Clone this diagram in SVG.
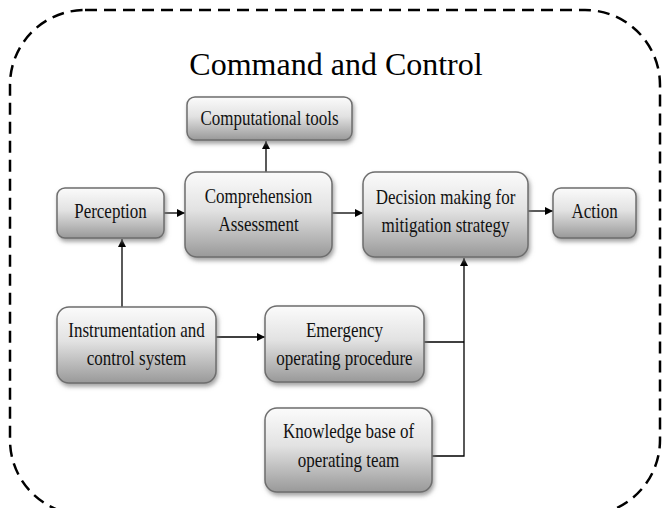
<svg xmlns="http://www.w3.org/2000/svg" width="663" height="508" viewBox="0 0 663 508">
  <defs>
    <linearGradient id="g" x1="0" y1="0" x2="0" y2="1">
      <stop offset="0" stop-color="#fbfbfb"/>
      <stop offset="0.45" stop-color="#e2e2e2"/>
      <stop offset="1" stop-color="#999999"/>
    </linearGradient>
    <filter id="sh" x="-10%" y="-10%" width="125%" height="135%">
      <feDropShadow dx="1.5" dy="3" stdDeviation="2" flood-color="#7a7a7a" flood-opacity="0.7"/>
    </filter>
    <marker id="ah" viewBox="0 0 10 10" refX="10" refY="5" markerWidth="8" markerHeight="8" markerUnits="userSpaceOnUse" orient="auto">
      <path d="M0,0 L10,5 L0,10 z" fill="#000"/>
    </marker>
  </defs>
  <style>
    .box { fill: url(#g); stroke: #6e6e6e; stroke-width: 1.5; filter: url(#sh); }
    .t { font-family: "Liberation Serif", "Times New Roman", serif; font-size: 20px; fill: #111; text-anchor: middle; }
    .title { font-family: "Liberation Serif", "Times New Roman", serif; font-size: 32px; fill: #000; text-anchor: middle; }
    .c { fill: none; stroke: #000; stroke-width: 1.3; }
    .arr { marker-end: url(#ah); }
  </style>
  <rect width="663" height="508" fill="#fff"/>
  <rect x="10" y="10" width="650" height="505" rx="75" ry="75" fill="none" stroke="#000" stroke-width="2.5" stroke-dasharray="12 7"/>
  <text class="title" x="336" y="75">Command and Control</text>

  <g id="connectors">
    <line class="c arr" x1="266" y1="172" x2="266" y2="141"/>
    <line class="c arr" x1="164" y1="213" x2="185" y2="213"/>
    <line class="c arr" x1="122" y1="307" x2="122" y2="239"/>
    <line class="c arr" x1="332" y1="213" x2="363" y2="213"/>
    <line class="c arr" x1="528" y1="211" x2="553" y2="211"/>
    <line class="c arr" x1="216" y1="337" x2="265" y2="337"/>
    <polyline class="c" points="424,342 464,342"/>
    <polyline class="c arr" points="432,456 464,456 464,258"/>
  </g>

  <g id="computational">
    <rect class="box" x="187" y="97" width="165" height="43" rx="8"/>
    <text class="t" transform="translate(269.5 125) scale(0.85 1)">Computational tools</text>
  </g>
  <g id="perception">
    <rect class="box" x="57" y="188" width="107" height="50" rx="8"/>
    <text class="t" transform="translate(110.5 218) scale(0.85 1)">Perception</text>
  </g>
  <g id="comprehension">
    <rect class="box" x="185" y="172" width="147" height="85" rx="12"/>
    <text class="t" transform="translate(258.5 203) scale(0.85 1)">Comprehension</text>
    <text class="t" transform="translate(258.5 231) scale(0.85 1)">Assessment</text>
  </g>
  <g id="decision">
    <rect class="box" x="363" y="172" width="165" height="85" rx="12"/>
    <text class="t" transform="translate(445.5 204) scale(0.85 1)">Decision making for</text>
    <text class="t" transform="translate(445.5 232) scale(0.85 1)">mitigation strategy</text>
  </g>
  <g id="action">
    <rect class="box" x="553" y="188" width="83" height="50" rx="8"/>
    <text class="t" transform="translate(594.5 218) scale(0.85 1)">Action</text>
  </g>
  <g id="instrumentation">
    <rect class="box" x="57" y="307" width="159" height="76" rx="12"/>
    <text class="t" transform="translate(136.5 337) scale(0.85 1)">Instrumentation and</text>
    <text class="t" transform="translate(136.5 365) scale(0.85 1)">control system</text>
  </g>
  <g id="emergency">
    <rect class="box" x="265" y="306" width="159" height="76" rx="12"/>
    <text class="t" transform="translate(344.5 337) scale(0.85 1)">Emergency</text>
    <text class="t" transform="translate(344.5 365) scale(0.85 1)">operating procedure</text>
  </g>
  <g id="knowledge">
    <rect class="box" x="265" y="408" width="167" height="84" rx="12"/>
    <text class="t" transform="translate(348.5 438) scale(0.85 1)">Knowledge base of</text>
    <text class="t" transform="translate(348.5 467) scale(0.85 1)">operating team</text>
  </g>
</svg>
